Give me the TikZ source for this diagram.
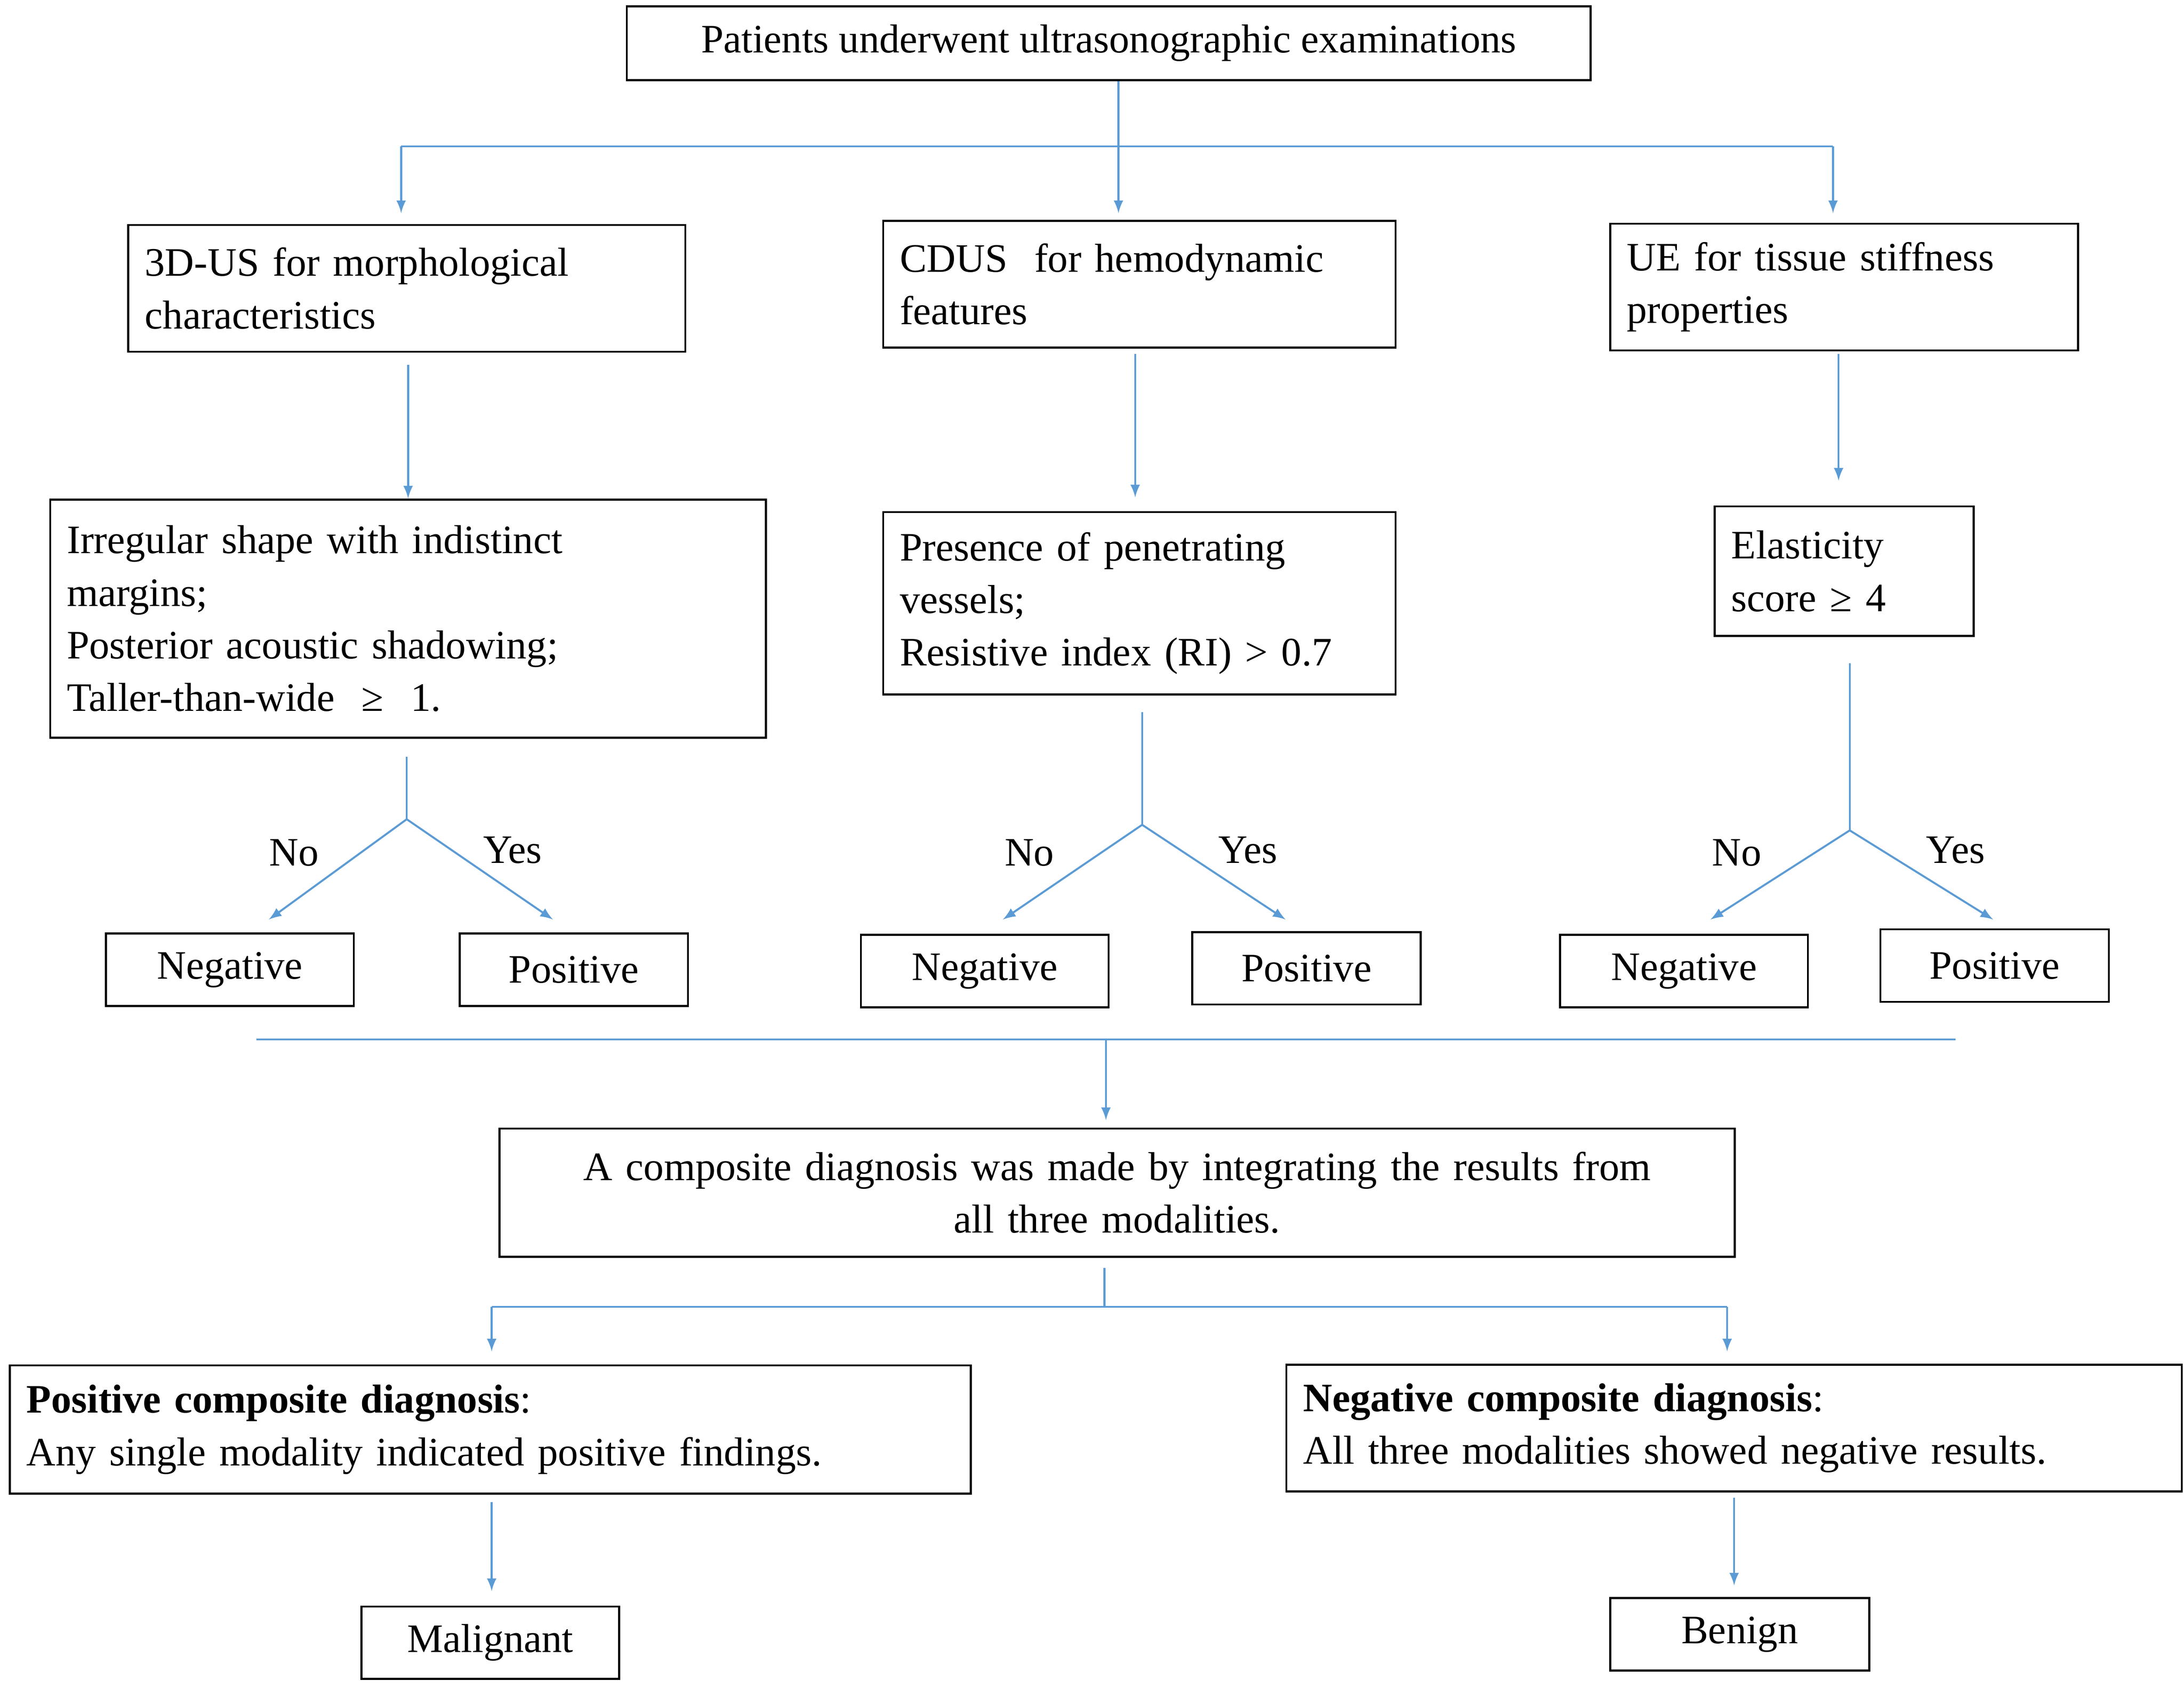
\documentclass[tikz,border=0pt]{standalone}
\usepackage{fontspec}
\setmainfont{Liberation Serif}
\begin{document}
\begin{tikzpicture}[x=0.02cm,y=-0.02cm,>=latex,
	box/.style={draw,thick,inner xsep=0.24cm,inner ysep=0,align=left,font=\fontsize{16.5}{21.5}\selectfont},
	res/.style={draw,thick,inner sep=0,font=\fontsize{16.5}{20}\selectfont},
	con/.style={draw={rgb,255:red,91;green,155;blue,213},thick},
	lab/.style={font=\fontsize{16.5}{20}\selectfont}]
	\useasboundingbox (0,0) rectangle (1568,1218);
	% top
	\node[res,minimum width=13.84cm,minimum height=1.06cm] (top) at (796,31) {Patients underwent ultrasonographic examinations};
	\node[box,text width=7.52cm,minimum height=1.82cm] (us) at (292,207) {3D-US for morphological\\characteristics};
	\node[box,text width=6.88cm,minimum height=1.82cm] (cdus) at (818,204) {CDUS\ \ for hemodynamic\\features};
	\node[box,text width=6.24cm,minimum height=1.82cm] (ue) at (1324,206) {UE for tissue stiffness\\properties};
	\coordinate (t0) at (803,105);
	\draw[con] (top.south -| t0) -- (t0);
	\draw[con] (288,105) -- (1316,105);
	\foreach \x in {288,803,1316} \draw[con,->] (\x,105) -- (\x,153);
	% criteria
	\node[box,text width=9.8cm,minimum height=3.42cm] (crit1) at (293,444) {Irregular shape with indistinct\\margins;\\Posterior acoustic shadowing;\\Taller-than-wide\ \ ≥\ \ 1.};
	\node[box,text width=6.88cm,minimum height=2.62cm] (crit2) at (818,433) {Presence of penetrating\\vessels;\\Resistive index (RI) > 0.7};
	\node[box,text width=3.24cm,minimum height=1.86cm] (crit3) at (1324,410) {Elasticity\\score ≥ 4};
	\draw[con,->] (293,262) -- (crit1.north);
	\draw[con,->] (815,254) -- (815,357);
	\draw[con,->] (1320,254) -- (1320,345);
	% outcomes
	\foreach \n/\cx/\stop/\stbot/\nx/\ny/\px/\py/\negx/\negy/\posx/\posy in
		{a/292/543/588/193/660/397/660/165/696/412/696,
		 b/820/511/592/720/660/923/660/707/697/938/695,
		 c/1328/476/596/1228/660/1431/660/1209/697/1432/693}{
		\coordinate (s\n) at (\cx,\stop);
		\coordinate (j\n) at (\cx,\stbot);
		\node[res,minimum width=3.56cm,minimum height=1.04cm] (neg\n) at (\negx,\negy) {Negative};
		\node[res,minimum width=3.28cm,minimum height=1.04cm] (pos\n) at (\posx,\posy) {Positive};
		\draw[con] (s\n) -- (j\n);
		\draw[con,->] (j\n) -- (\nx,\ny);
		\draw[con,->] (j\n) -- (\px,\py);
		\node[lab] at (\cx-81,612) {No};
		\node[lab] at (\cx+76,610) {Yes};
	}
	% composite
	\draw[con] (184,746) -- (1404,746);
	\node[box,align=center,text width=17.26cm,minimum height=1.84cm] (comp) at (802,856) {A composite diagnosis was made by integrating the results from\\all three modalities.};
	\draw[con,->] (794,746) -- (794,804);
	\coordinate (c0) at (793,938);
	\draw[con] (793,910) -- (c0);
	\draw[con] (353,938) -- (1240,938);
	\foreach \x in {353,1240} \draw[con,->] (\x,938) -- (\x,970);
	\node[box,text width=13.32cm,minimum height=1.84cm] (pcd) at (352,1026) {\textbf{Positive composite diagnosis}:\\Any single modality indicated positive findings.};
	\node[box,text width=12.38cm,minimum height=1.82cm] (ncd) at (1245,1025) {\textbf{Negative composite diagnosis}:\\All three modalities showed negative results.};
	\node[res,minimum width=3.7cm,minimum height=1.04cm] (mal) at (352,1179) {Malignant};
	\node[res,minimum width=3.72cm,minimum height=1.04cm] (ben) at (1249,1173) {Benign};
	\draw[con,->] (353,1078) -- (353,1142);
	\draw[con,->] (1245,1075) -- (1245,1138);
\end{tikzpicture}
\end{document}
